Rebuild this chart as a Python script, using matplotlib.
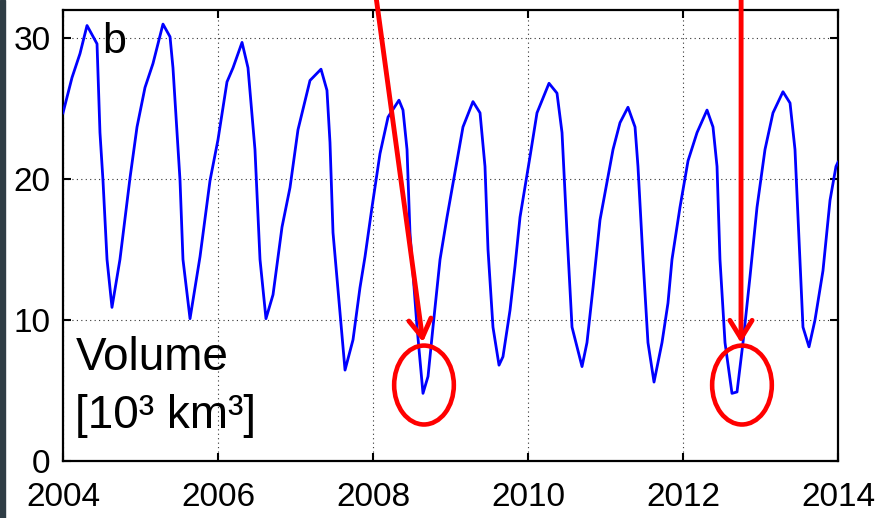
import matplotlib
matplotlib.use("Agg")
from matplotlib import pyplot as plt
from matplotlib.patches import Ellipse, Rectangle

plt.rcParams['font.family'] = ['Liberation Sans', 'DejaVu Sans']

# sea ice volume (years after 2004, 10^3 km^3)
yr_offset = [0.000, 0.116, 0.219, 0.310, 0.439, 0.477, 0.516, 0.568, 0.632, 0.735,
             0.865, 0.955, 1.058, 1.161, 1.290, 1.381, 1.419, 1.510, 1.548, 1.639,
             1.768, 1.897, 2.000, 2.116, 2.194, 2.310, 2.387, 2.477, 2.542, 2.619,
             2.710, 2.826, 2.929, 3.032, 3.187, 3.329, 3.406, 3.445, 3.484, 3.639,
             3.742, 3.832, 3.897, 3.987, 4.090, 4.194, 4.335, 4.387, 4.439, 4.477,
             4.568, 4.645, 4.710, 4.774, 4.865, 4.955, 5.084, 5.161, 5.290, 5.381,
             5.445, 5.484, 5.548, 5.626, 5.677, 5.768, 5.832, 5.897, 6.026, 6.116,
             6.271, 6.374, 6.439, 6.503, 6.568, 6.697, 6.761, 6.839, 6.929, 7.097,
             7.187, 7.290, 7.381, 7.419, 7.484, 7.548, 7.626, 7.729, 7.806, 7.858,
             7.961, 8.065, 8.181, 8.310, 8.387, 8.439, 8.477, 8.542, 8.632, 8.697,
             8.774, 8.865, 8.955, 9.058, 9.161, 9.290, 9.381, 9.445, 9.484, 9.548,
             9.626, 9.703, 9.806, 9.897, 9.974, 10.0]
volume = [24.7, 27.2, 28.9, 30.9, 29.6, 23.3, 19.9, 14.3, 10.9, 14.3,
          20.1, 23.7, 26.5, 28.2, 31.0, 30.1, 27.9, 19.9, 14.3, 10.1,
          14.5, 19.9, 22.8, 26.9, 27.9, 29.7, 27.9, 22.1, 14.3, 10.1,
          11.8, 16.6, 19.4, 23.5, 27.0, 27.8, 26.3, 22.6, 16.2, 6.45,
          8.6, 12.3, 14.5, 18.0, 21.8, 24.4, 25.6, 24.9, 22.1, 16.2,
          9.5, 4.8, 6.0, 9.5, 14.3, 17.3, 21.3, 23.7, 25.5, 24.7,
          20.9, 15.0, 9.5, 6.8, 7.4, 10.7, 13.8, 17.3, 21.6, 24.7,
          26.8, 26.1, 23.3, 16.2, 9.5, 6.7, 8.4, 12.3, 17.1, 22.1,
          24.0, 25.1, 23.7, 20.9, 14.3, 8.4, 5.6, 8.4, 11.2, 14.3,
          18.0, 21.3, 23.3, 24.9, 23.7, 20.9, 14.3, 8.4, 4.8, 4.9,
          8.4, 13.1, 18.0, 22.1, 24.7, 26.2, 25.4, 22.1, 17.3, 9.5,
          8.1, 10.0, 13.5, 18.5, 20.9, 21.2]
years = [2004 + t for t in yr_offset]

xticks = [2004, 2006, 2008, 2010, 2012, 2014]
yticks = [0, 10, 20, 30]

# marked minima (2008, 2012): arrow start/tip and circle centre
arrow_start = [(2008.04, 32.9), (2012.75, 32.9)]
arrow_tip = [(2008.645, 8.44), (2012.748, 8.37)]
circle_xy = [(2008.658, 5.39), (2012.761, 5.39)]

fig = plt.figure(figsize=(8.8, 5.18), dpi=100)
ax = fig.add_axes([63 / 880, 57 / 518, 775 / 880, 451 / 518])

# dark strip at the left edge of the screenshot
fig.patches.append(Rectangle((0, 0), 5 / 880, 1, transform=fig.transFigure,
                             color='#2f3d45', zorder=0))

ax.plot(years, volume, color='#0000ff', lw=2.0, zorder=3)

ax.set_xlim(2004, 2014)
ax.set_ylim(0, 32)
ax.set_xticks(xticks)
ax.set_yticks(yticks)
ax.grid(True, color='#333333', ls=(0, (1, 3)), lw=0.8)
ax.tick_params(direction='in', length=6, width=1.5, top=True, right=True,
               labelsize=24)
ax.tick_params(axis='x', pad=15)
ax.tick_params(axis='y', pad=9)
for s in ax.spines.values():
    s.set_linewidth(1.6)

ax.text(2004.51, 28.96, 'b', fontsize=31, va='baseline')
ax.text(2004.16, 6.46, 'Volume', fontsize=33, va='baseline')
ax.text(2004.16, 2.34, '[10³ km³]', fontsize=33, va='baseline')

for start, tip, c in zip(arrow_start, arrow_tip, circle_xy):
    ax.annotate('', xy=tip, xytext=start,
                arrowprops=dict(arrowstyle='->,head_length=0.65,head_width=0.4',
                                color='#ff0000', lw=3.5, mutation_scale=20,
                                shrinkA=0, shrinkB=0),
                annotation_clip=False, zorder=5)
    ax.add_patch(Ellipse(c, 0.77, 5.6, fill=False, edgecolor='#ff0000',
                         lw=3.3, zorder=5))

fig.savefig('out.png', dpi=100)
